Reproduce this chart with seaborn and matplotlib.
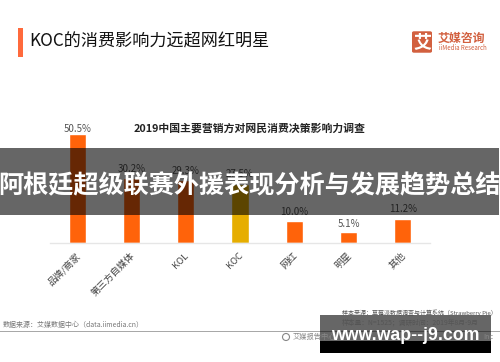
"""KOC influence bar chart, recreated with seaborn."""
import matplotlib
matplotlib.use("Agg")
import matplotlib.pyplot as plt
import matplotlib.transforms as mtrans
import pandas as pd
import seaborn as sns
from matplotlib.patches import Ellipse, FancyBboxPatch, Rectangle

categories = ["品牌/商家", "第三方自媒体", "KOL", "KOC", "网红", "明星", "其他"]
values = [50.5, 30.2, 29.3, 27.5, 10.0, 5.1, 11.2]
bar_colors = ["#FF630A", "#FF630A", "#FF630A", "#E6AE00", "#FF630A", "#FF630A", "#FF630A"]

page_title = "KOC的消费影响力远超网红明星"
chart_title = "2019中国主要营销方对网民消费决策影响力调查"
banner_text = "阿根廷超级联赛外援表现分析与发展趋势总结"
watermark = "www.wap--j9.com"
source_left = "数据来源：艾媒数据中心（data.iimedia.cn）"
source_right = ["样本来源：草莓派数据调查与计算系统（Strawberry Pie）", "样本量：N=1525；调研时间：2019年8月-9月"]
footer_text = "艾媒报告中心"
footer_tail = "Inc"

# the labels sit at uneven heights above the bars in the original
label_pads = [0.5, 3, 3, 3, 3, 2, 3]

W, H = 500, 362


def fx(px):
    return px / W


def fy(py):
    return 1 - py / H


def add_rect(fig, x0, y0, x1, y1, **kw):
    fig.add_artist(Rectangle((fx(x0), fy(y1)), (x1 - x0) / W, (y1 - y0) / H,
                             transform=fig.transFigure, linewidth=0, **kw))


def main() -> None:
    sns.set_style("white")
    plt.rcParams["font.family"] = ["Noto Sans CJK SC", "DejaVu Sans"]

    fig = plt.figure(figsize=(W / 100, H / 100), dpi=100, facecolor="white")
    ax = fig.add_axes([fx(50), fy(242.5), 380 / W, 122.5 / H])

    df = pd.DataFrame({"category": categories, "value": values})
    sns.barplot(df, x="category", y="value", hue="category", palette=bar_colors,
                legend=False, width=0.315, saturation=1, ax=ax)
    for container, pad in zip(ax.containers, label_pads):
        ax.bar_label(container, fmt="%.1f%%", fontsize=7, color="#555555", padding=pad)

    ax.set_xlim(-0.5, 6.5)
    ax.set_ylim(0, 57.2)
    ax.set_xlabel("")
    ax.set_ylabel("")
    ax.set_yticks([])
    ax.tick_params(axis="x", length=0, pad=6)
    shift = mtrans.ScaledTranslation(-1.5 / 100, 0, fig.dpi_scale_trans)
    for label in ax.get_xticklabels():
        label.set_rotation(45)
        label.set_ha("right")
        label.set_rotation_mode("anchor")
        label.set_fontsize(6.8)
        label.set_color("#444444")
        label.set_transform(label.get_transform() + shift)
    sns.despine(ax=ax, left=True)
    ax.spines["bottom"].set_color("#E6E6E6")
    ax.spines["bottom"].set_linewidth(1)

    # header
    add_rect(fig, 18, 28, 23, 57, color="#FF6A3C")
    fig.text(fx(29), fy(42), page_title, fontsize=12.3, fontweight="medium", color="#111111",
             va="center", ha="left")
    fig.add_artist(FancyBboxPatch((fx(413), fy(52)), 18 / W, 20 / H,
                                  boxstyle="round,pad=0.002,rounding_size=0.004",
                                  transform=fig.transFigure, color="#D2603F", linewidth=0))
    fig.text(fx(422), fy(42), "艾", fontsize=13, fontweight="bold", color="white",
             va="center", ha="center")
    fig.text(fx(438), fy(38.5), "艾媒咨询", fontsize=8.6, fontweight="bold", color="#D2603F",
             va="center", ha="left")
    fig.text(fx(439), fy(48.5), "iiMedia Research", fontsize=4.4, color="#D2603F",
             va="center", ha="left")

    fig.text(fx(250), fy(128), chart_title, fontsize=7.8, fontweight="bold", color="#222222",
             va="center", ha="center")

    # footer
    fig.text(fx(3), fy(324.5), source_left, fontsize=5, color="#777777", va="center", ha="left")
    fig.text(fx(341.5), fy(313), source_right[0], fontsize=4.3, color="#555555", va="center", ha="left")
    fig.text(fx(341.5), fy(323), source_right[1], fontsize=4.9, color="#555555", va="center", ha="left")
    add_rect(fig, 0, 330.5, 500, 331.5, color="#A8A8A8")
    fig.add_artist(Ellipse((fx(286), fy(337)), 7 / W, 7 / H, transform=fig.transFigure,
                           facecolor="none", edgecolor="#888888", linewidth=0.8))
    fig.text(fx(293), fy(337), footer_text, fontsize=5.2, color="#888888", va="center", ha="left")
    fig.text(fx(483), fy(337), footer_tail, fontsize=5.2, color="#888888", va="center", ha="left")

    # overlays
    add_rect(fig, 0, 148, 499, 215, color="black", alpha=0.6)
    fig.text(fx(250), fy(186), banner_text, fontsize=18.1, fontweight="bold", color="white",
             va="center", ha="center")
    add_rect(fig, 320, 315, 491, 341, color="black", alpha=0.6)
    add_rect(fig, 320, 341, 491, 353, color="black")
    fig.text(fx(405), fy(336), watermark, fontsize=12.8, fontweight="bold", color="white",
             family="Liberation Sans", va="center", ha="center")

    fig.savefig("out.png", dpi=100)
    plt.close(fig)


if __name__ == "__main__":
    main()
